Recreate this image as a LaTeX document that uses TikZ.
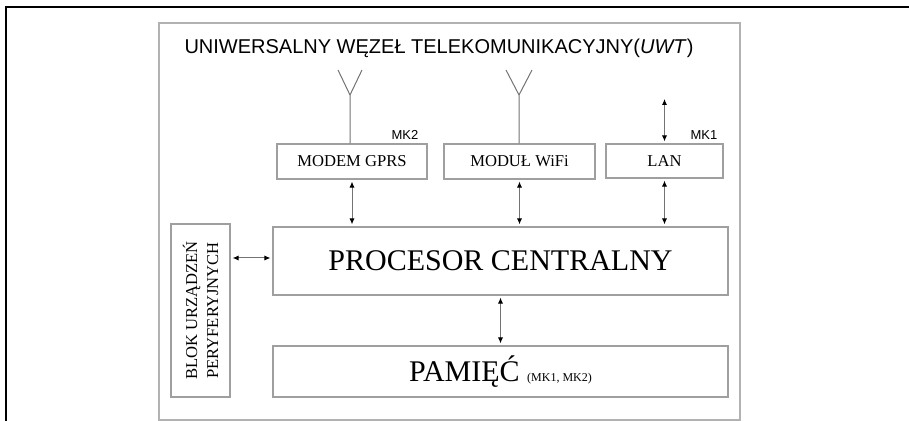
\documentclass[tikz,border=0pt]{standalone}
\usepackage{fontspec}
\setmainfont{Liberation Serif}
\newfontfamily\arialfont{Liberation Sans}
\usetikzlibrary{arrows.meta}
\begin{document}
\begin{tikzpicture}
        [x=0.5pt, y=0.5pt,
        box/.style={rectangle, draw=gray!75, line width=0.6pt, inner sep=0pt, font=\fontsize{8.3}{10.5}\selectfont},
        bigbox/.style={box, font=\fontsize{15}{18}\selectfont},
        mk/.style={inner sep=0pt, font=\arialfont\fontsize{6.5}{8}\selectfont},
        link/.style={draw=black!55, line width=0.5pt, <->, >={Latex[length=3pt, width=2.6pt, color=black]}, shorten <=1pt, shorten >=1pt},
        antenna/.style={draw=black!55, line width=0.5pt}]
        \useasboundingbox (0,0) rectangle (909,421);
        \draw[line width=1pt] (6,0) -- (6,414) -- (909,414);
        \draw[draw=gray!60, line width=1.1pt] (159,1) rectangle (740,398);

        \node[inner sep=0pt, font=\arialfont\fontsize{10}{12}\selectfont] (title) at (439,373) {UNIWERSALNY WĘZEŁ TELEKOMUNIKACYJNY(\textit{UWT})};

        \node[box, minimum width=75pt, minimum height=17.5pt] (gprs) at (352,259.5) {MODEM GPRS};
        \node[box, minimum width=75.5pt, minimum height=17.5pt] (wifi) at (519.5,259.5) {MODUŁ WiFi};
        \node[box, minimum width=58.5pt, minimum height=17pt] (lan) at (664.5,260) {LAN};
        \node[mk] (mk2) at (405,286) {MK2};
        \node[mk] (mk1) at (704,286) {MK1};

        \node[bigbox, minimum width=227.5pt, minimum height=34pt] (cpu) at (500.5,160) {PROCESOR CENTRALNY};
        \node[bigbox, minimum width=227.5pt, minimum height=25.5pt] (mem) at (500.5,49.5) {PAMIĘĆ {\fontsize{6}{7}\selectfont (MK1, MK2)}};
        \node[box, rotate=90, minimum width=86.5pt, minimum height=29.5pt, align=center] (blok) at (200.5,110.5) {BLOK URZĄDZEŃ\\PERYFERYJNYCH};

        % anteny
        \coordinate (gprsA) at (350,326);
        \coordinate (wifiA) at (519,326);
        \draw[antenna] (gprs.north -| gprsA) -- (gprsA) -- ++(-12,25) (gprsA) -- ++(12,25);
        \draw[antenna] (wifi.north -| wifiA) -- (wifiA) -- ++(-13,25) (wifiA) -- ++(13,25);
        \coordinate (lanT) at (664.5,324);

        \draw[link] (lanT) -- (lan);
        \draw[link] (gprs) -- (gprs |- cpu.north);
        \draw[link] (wifi) -- (wifi |- cpu.north);
        \draw[link] (lan) -- (lan |- cpu.north);
        \draw[link] (cpu) -- (mem);
        \draw[link] (blok.south |- 0,163) -- (cpu.west |- 0,163);
\end{tikzpicture}
\end{document}
